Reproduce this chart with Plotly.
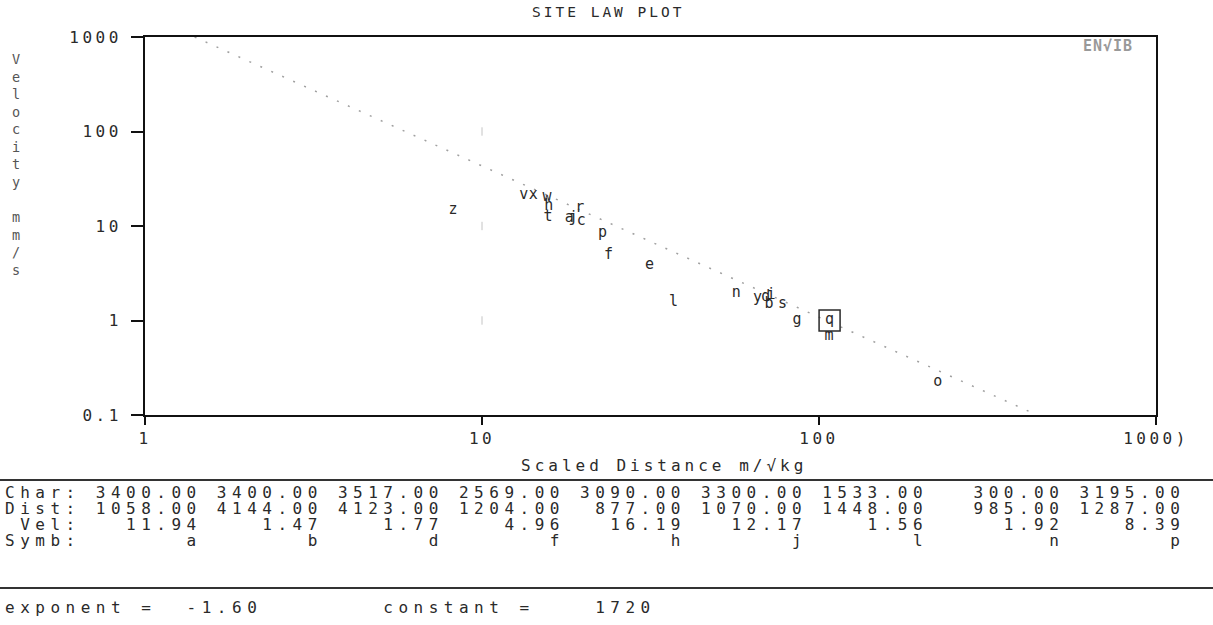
import numpy as np
import plotly.graph_objects as go

# Printed table (events listed under the plot)
table_symb = ["a", "b", "d", "f", "h", "j", "l", "n", "p"]
table_char = [3400.00, 3400.00, 3517.00, 2569.00, 3090.00, 3300.00, 1533.00, 300.00, 3195.00]
table_dist = [1058.00, 4144.00, 4123.00, 1204.00, 877.00, 1070.00, 1448.00, 985.00, 1287.00]
table_vel = [11.94, 1.47, 1.77, 4.96, 16.19, 12.17, 1.56, 1.92, 8.39]

# Remaining events (scaled distance, velocity mm/s)
other_symb = ["c", "e", "g", "i", "m", "o", "r", "s", "t", "v", "w", "x", "y", "z"]
other_sd = [19.7, 31.4, 86.0, 72.0, 107.0, 225.0, 19.5, 78.0, 15.7, 13.3, 15.6, 14.2, 65.7, 8.2]
other_vel = [11.1, 3.8, 1.0, 1.85, 0.68, 0.22, 15.5, 1.5, 12.3, 21.0, 20.0, 21.0, 1.71, 14.6]

# Boxed (highlighted) event
box_symb = ["q"]
box_sd = [107.5]
box_vel = [1.0]

# Site law fit
exponent = -1.60
constant = 1720

x_ticks = [1, 10, 100, 1000]
x_ticktext = ["1", "10", "100", "1000)"]
y_ticks = [0.1, 1, 10, 100, 1000]
y_ticktext = ["0.1", "1", "10", "100", "1000"]

FONT = "DejaVu Sans Mono"
INK = "#2a2a2a"

# plot area in pixels
L, R, T, B = 145, 1156, 37, 415
W, H = 1213, 625


def px(x):
    return (x - L) / (R - L)


def py(y):
    return (B - y) / (B - T)


def wide(s, sp):
    # old plotter font: wide letters, keep spaces
    s = s.replace(" ", "\u00a0")
    return f'<span style="letter-spacing:{sp}px">{s}</span>'


table_sd = [d / np.sqrt(c) for d, c in zip(table_dist, table_char)]

fig = go.Figure()

# fitted site law, drawn between V = 1000 and V = 0.1
v_ends = np.array([1000.0, 0.1])
sd_ends = (constant / v_ends) ** (1.0 / -exponent)
fig.add_trace(go.Scatter(
    x=sd_ends, y=v_ends, mode="lines",
    line=dict(color="#a0a0a0", width=1.5, dash="2px,10px"),
    hoverinfo="skip"
))

# faint decade marks at x = 10
fig.add_trace(go.Scatter(
    x=[x_ticks[1]] * 3, y=y_ticks[1:4], mode="markers",
    marker=dict(symbol="line-ns", size=6, line=dict(color="#c4c4c4", width=1)),
    hoverinfo="skip"
))

fig.add_trace(go.Scatter(
    x=list(table_sd) + other_sd,
    y=table_vel + other_vel,
    mode="text",
    text=table_symb + other_symb,
    textposition="middle center",
    textfont=dict(family=FONT, size=15, color=INK),
))

fig.add_trace(go.Scatter(
    x=box_sd, y=box_vel, mode="markers+text",
    text=box_symb, textposition="middle center",
    textfont=dict(family=FONT, size=15, color=INK),
    marker=dict(symbol="square-open", size=21, color=INK, line=dict(width=1.5)),
))

axis_common = dict(
    type="log", showgrid=False, zeroline=False,
    showline=True, linecolor="#111111", linewidth=2, mirror=True,
    ticks="outside", tickcolor="#111111", tickwidth=1.5,
    tickfont=dict(family=FONT, size=16, color=INK),
)

fig.update_xaxes(range=[0, 3], tickvals=x_ticks, ticktext=[wide(t, 3.5) for t in x_ticktext],
                 ticklen=8, **axis_common)
fig.update_yaxes(range=[-1, 3], tickvals=y_ticks, ticktext=[wide(t, 3.5) for t in y_ticktext],
                 ticklen=12, ticklabelstandoff=6, **axis_common)

annotations = [
    dict(x=px(608), y=py(12), text=wide("SITE LAW PLOT", 3), font=dict(size=14.5)),
    dict(x=px(1108), y=py(46), text=wide("<b>EN\u221aIB</b>", 1), font=dict(size=15, color="#999999")),
    dict(x=px(664), y=py(465), text=wide("Scaled Distance m/\u221akg", 4), font=dict(size=16)),
    dict(x=px(16), y=py(49), yanchor="top",
         text="<br>".join(list("Velocity") + ["\u00a0"] + list("mm/s")),
         font=dict(size=13.5, color="#555555")),
]

# table under the plot, monospace rows, 8-character fields
row_y = [492, 508, 524, 540]
row_labels = ["Char:", "Dist:", " Vel:", "Symb:"]
row_values = [
    [f"{v:8.2f}" for v in table_char],
    [f"{v:8.2f}" for v in table_dist],
    [f"{v:8.2f}" for v in table_vel],
    [f"{s:>8}" for s in table_symb],
]
for yy, lab, vals in zip(row_y, row_labels, row_values):
    line = lab + "".join(vals[:7]) + " " + "".join(vals[7:])
    annotations.append(dict(x=px(3), y=py(yy), text=wide(line, 5.5), xanchor="left",
                            font=dict(size=16)))

footer = f"exponent =  {exponent:.2f}        constant =    {constant}"
annotations.append(dict(x=px(3), y=py(607), xanchor="left", text=wide(footer, 5.5),
                        font=dict(size=16)))

for a in annotations:
    a.setdefault("xanchor", "center")
    a.setdefault("yanchor", "middle")
    a["xref"] = "paper"
    a["yref"] = "paper"
    a["showarrow"] = False
    f = a["font"]
    f.setdefault("family", FONT)
    f.setdefault("color", INK)

shapes = [
    dict(type="line", xref="paper", yref="paper", x0=px(0), x1=px(W), y0=py(y0), y1=py(y0),
         line=dict(color="#333333", width=2))
    for y0 in (480, 588)
]

fig.update_layout(
    width=W, height=H,
    margin=dict(l=L, r=W - R, t=T, b=H - B),
    paper_bgcolor="white", plot_bgcolor="white",
    showlegend=False,
    annotations=annotations,
    shapes=shapes,
)

fig.write_html("out.html", config={"displayModeBar": False},
               post_script="document.body.style.margin='0';")
